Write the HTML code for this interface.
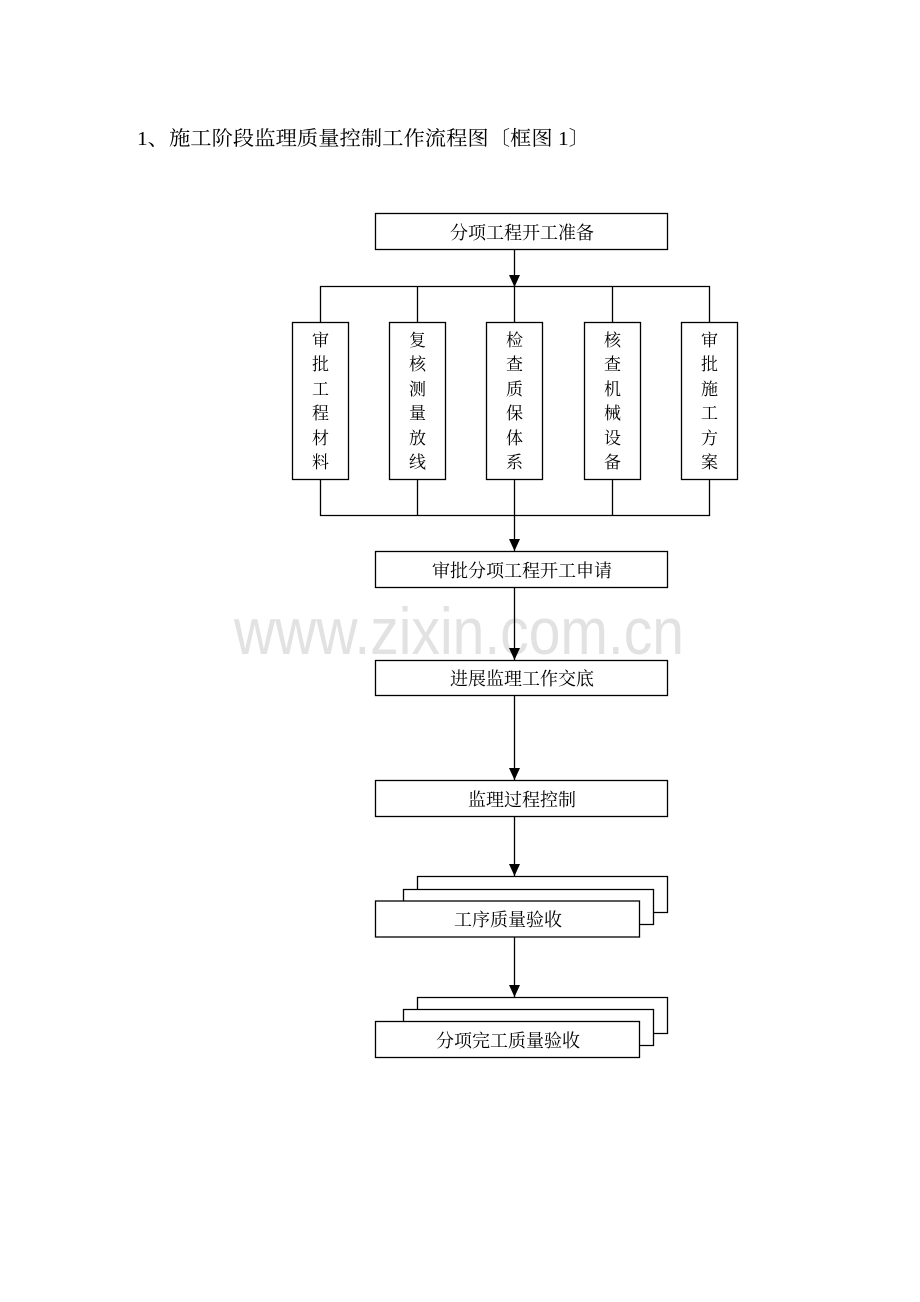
<!DOCTYPE html>
<html><head><meta charset="utf-8"><style>
html,body{margin:0;padding:0;background:#fff;}
svg{display:block;}
text{font-family:"Liberation Serif","Noto Serif CJK SC","Noto Sans CJK SC",serif;fill:#000;}
</style></head><body>
<svg width="920" height="1302" viewBox="0 0 920 1302" xmlns="http://www.w3.org/2000/svg">
<text x="137" y="145" font-size="20" textLength="453" lengthAdjust="spacingAndGlyphs">1、施工阶段监理质量控制工作流程图〔框图 1〕</text>
<text x="234" y="654" font-size="66" textLength="450" lengthAdjust="spacingAndGlyphs" style="font-family:'Liberation Sans',sans-serif;fill:#e2e2e2">www.zixin.com.cn</text>
<g fill="none" stroke="#000" stroke-width="1.3">
<rect x="375.5" y="213.5" width="292" height="36"/>
<line x1="514.5" y1="249" x2="514.5" y2="286"/>
<polyline points="320.5,322 320.5,286.5 709.5,286.5 709.5,322"/>
<line x1="417.5" y1="286" x2="417.5" y2="322"/>
<line x1="514.5" y1="286" x2="514.5" y2="322"/>
<line x1="612.5" y1="286" x2="612.5" y2="322"/>
<rect x="292.5" y="322.5" width="56" height="157"/>
<rect x="389.5" y="322.5" width="56" height="157"/>
<rect x="486.5" y="322.5" width="56" height="157"/>
<rect x="584.5" y="322.5" width="56" height="157"/>
<rect x="681.5" y="322.5" width="56" height="157"/>
<polyline points="320.5,479 320.5,515.5 709.5,515.5 709.5,479"/>
<line x1="417.5" y1="479" x2="417.5" y2="515"/>
<line x1="514.5" y1="479" x2="514.5" y2="551"/>
<line x1="612.5" y1="479" x2="612.5" y2="515"/>
<rect x="375.5" y="551.5" width="292" height="36"/>
<line x1="514.5" y1="587" x2="514.5" y2="660"/>
<rect x="375.5" y="660.5" width="292" height="35"/>
<line x1="514.5" y1="695" x2="514.5" y2="780"/>
<rect x="375.5" y="780.5" width="292" height="36"/>
<line x1="514.5" y1="816" x2="514.5" y2="876"/>
<polyline points="417.5,889 417.5,876.5 667.5,876.5 667.5,912.5 653,912.5"/>
<polyline points="403.5,901 403.5,889.5 653.5,889.5 653.5,924.5 639,924.5"/>
<rect x="375.5" y="901" width="264" height="36" fill="#fff"/>
<line x1="514.5" y1="937" x2="514.5" y2="997"/>
<polyline points="417.5,1009 417.5,997.5 667.5,997.5 667.5,1033.5 653,1033.5"/>
<polyline points="403.5,1021 403.5,1009.5 653.5,1009.5 653.5,1045.5 639,1045.5"/>
<rect x="375.5" y="1021.5" width="264" height="36" fill="#fff"/>
</g>
<g fill="#000">
<polygon points="509,275 520,275 514.5,287"/>
<polygon points="509,539 520,539 514.5,551"/>
<polygon points="509,648 520,648 514.5,660"/>
<polygon points="509,768 520,768 514.5,780"/>
<polygon points="509,864 520,864 514.5,876"/>
<polygon points="509,985 520,985 514.5,997"/>
</g>
<g font-size="18" text-anchor="middle">
<text x="522" y="239">分项工程开工准备</text>
<text x="522" y="577">审批分项工程开工申请</text>
<text x="522" y="685">进展监理工作交底</text>
<text x="522" y="806">监理过程控制</text>
<text x="508" y="926">工序质量验收</text>
<text x="508" y="1047">分项完工质量验收</text>
</g>
<g font-size="17" text-anchor="middle">
<text x="320.5" y="346">审</text><text x="320.5" y="370">批</text><text x="320.5" y="395">工</text><text x="320.5" y="419">程</text><text x="320.5" y="444">材</text><text x="320.5" y="468">料</text>
<text x="417.5" y="346">复</text><text x="417.5" y="370">核</text><text x="417.5" y="395">测</text><text x="417.5" y="419">量</text><text x="417.5" y="444">放</text><text x="417.5" y="468">线</text>
<text x="514.5" y="346">检</text><text x="514.5" y="370">查</text><text x="514.5" y="395">质</text><text x="514.5" y="419">保</text><text x="514.5" y="444">体</text><text x="514.5" y="468">系</text>
<text x="612.5" y="346">核</text><text x="612.5" y="370">查</text><text x="612.5" y="395">机</text><text x="612.5" y="419">械</text><text x="612.5" y="444">设</text><text x="612.5" y="468">备</text>
<text x="709.5" y="346">审</text><text x="709.5" y="370">批</text><text x="709.5" y="395">施</text><text x="709.5" y="419">工</text><text x="709.5" y="444">方</text><text x="709.5" y="468">案</text>
</g>
</svg>
</body></html>
